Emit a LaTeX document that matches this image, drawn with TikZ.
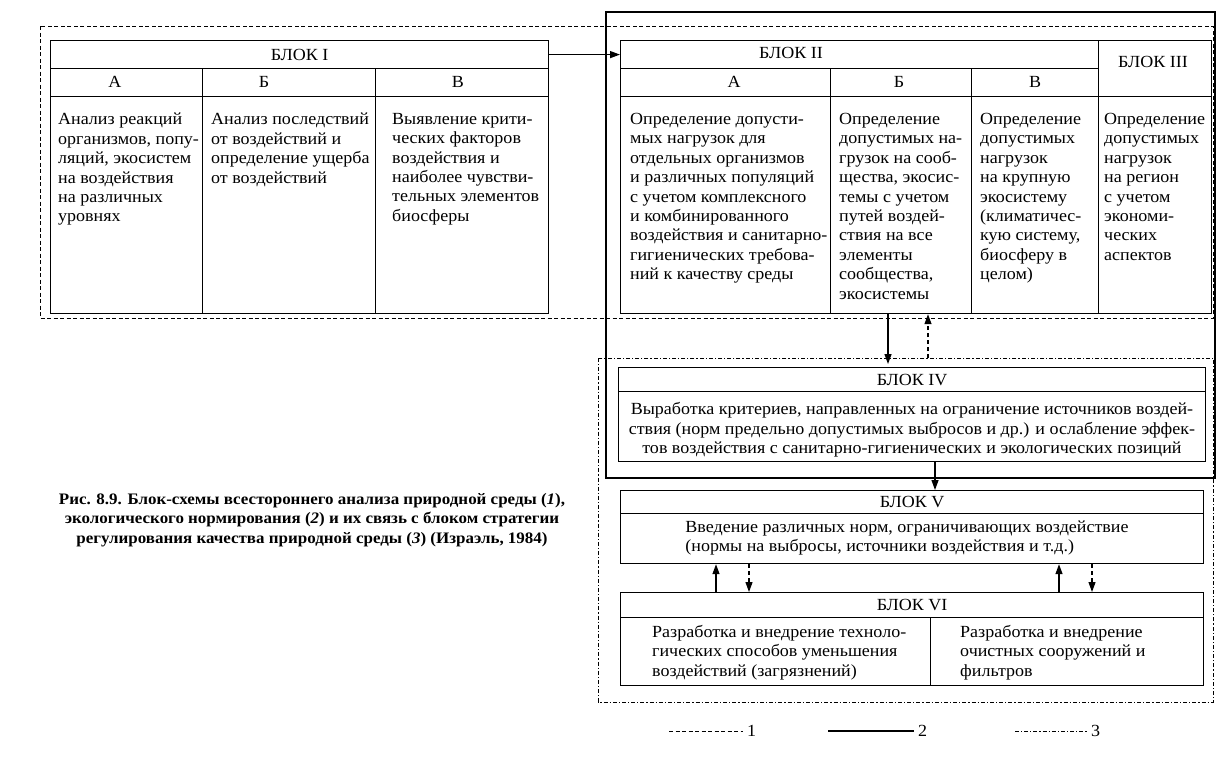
\documentclass[tikz,border=0pt]{standalone}
\usepackage{fontspec}
\setmainfont[FakeStretch=1.06]{Liberation Serif}
\usetikzlibrary{arrows.meta,calc}
\newcommand\fsz{\fontsize{17}{19.4}\selectfont}
\newcommand\capfs{\fontsize{16}{19.5}\selectfont\bfseries}
\tikzset{
  box/.style={draw, line width=1.2pt, inner sep=0pt, anchor=north west},
  txt/.style={inner sep=0pt, align=left, anchor=north west, font=\fsz},
  hd/.style={inner sep=0pt, font=\fsz},
  sarrow/.style={line width=1.3pt, -{Triangle[length=10pt,width=7pt]}},
  darrow/.style={line width=1.1pt, dash pattern=on 4pt off 3pt, -{Triangle[length=10pt,width=7pt]}},
  grpA/.style={line width=1pt, dash pattern=on 4pt off 2.5pt},
  grpB/.style={line width=1.4pt},
  grpC/.style={line width=1pt, dash pattern=on 4pt off 2pt on 1.2pt off 2pt},
}
\begin{document}
\begin{tikzpicture}[x=1pt,y=-1pt]
\useasboundingbox (0,0) rectangle (1217,766);
% group frames
\draw[grpA] (40,26) rectangle (1213,318);
\draw[grpB] (606,12) rectangle (1215,478);
\draw[grpC] (598,358) rectangle (1213,702);

% ---------- BLOCK I ----------
\node[box, minimum width=498pt, minimum height=28pt] (b1h) at (50,40) {};
\node[hd] (b1ht) at (b1h.center) {БЛОК I};
\node[box, minimum width=152pt, minimum height=28pt] (b1ha) at (50,68) {};
\node[box, minimum width=173pt, minimum height=28pt] (b1hb) at (202,68) {};
\node[box, minimum width=173pt, minimum height=28pt] (b1hc) at (375,68) {};
\node[hd] (l1a) at (115,82) {А};
\node[hd] (l1b) at (264,82) {Б};
\node[hd] (l1c) at (458,82) {В};
\node[box, minimum width=152pt, minimum height=217pt] (b1a) at (50,96) {};
\node[box, minimum width=173pt, minimum height=217pt] (b1b) at (202,96) {};
\node[box, minimum width=173pt, minimum height=217pt] (b1c) at (375,96) {};
\node[txt] (t1a) at (58,113) {Анализ реакций\\организмов, попу-\\ляций, экосистем\\на воздействия\\на различных\\уровнях};
\node[txt] (t1b) at (211,113) {Анализ последствий\\от воздействий и\\определение ущерба\\от воздействий};
\node[txt] (t1c) at (392,113) {Выявление крити-\\ческих факторов\\воздействия и\\наиболее чувстви-\\тельных элементов\\биосферы};

% ---------- BLOCK II / III ----------
\node[box, minimum width=478pt, minimum height=28pt] (b2h) at (620,40) {};
\node[hd] (b2ht) at (791,53) {БЛОК II};
\node[box, minimum width=210pt, minimum height=28pt] (b2ha) at (620,68) {};
\node[box, minimum width=141pt, minimum height=28pt] (b2hb) at (830,68) {};
\node[box, minimum width=127pt, minimum height=28pt] (b2hc) at (971,68) {};
\node[hd] (l2a) at (734,82) {А};
\node[hd] (l2b) at (899,82) {Б};
\node[hd] (l2c) at (1035,82) {В};
\node[box, minimum width=113pt, minimum height=56pt] (b3h) at (1098,40) {};
\node[hd] (b3ht) at (1153,62) {БЛОК III};
\node[box, minimum width=210pt, minimum height=217pt] (b2a) at (620,96) {};
\node[box, minimum width=141pt, minimum height=217pt] (b2b) at (830,96) {};
\node[box, minimum width=127pt, minimum height=217pt] (b2c) at (971,96) {};
\node[box, minimum width=113pt, minimum height=217pt] (b3) at (1098,96) {};
\node[txt] (t2a) at (630,113) {Определение допусти-\\мых нагрузок для\\отдельных организмов\\и различных популяций\\с учетом комплексного\\и комбинированного\\воздействия и санитарно-\\гигиенических требова-\\ний к качеству среды};
\node[txt] (t2b) at (839,113) {Определение\\допустимых на-\\грузок на сооб-\\щества, экосис-\\темы с учетом\\путей воздей-\\ствия на все\\элементы\\сообщества,\\экосистемы};
\node[txt] (t2c) at (980,113) {Определение\\допустимых\\нагрузок\\на крупную\\экосистему\\(климатичес-\\кую систему,\\биосферу в\\целом)};
\node[txt] (t3) at (1104,113) {Определение\\допустимых\\нагрузок\\на регион\\с учетом\\экономи-\\ческих\\аспектов};

\draw[sarrow] (b1h.east) -- (b2h.west);

% ---------- BLOCK IV ----------
\node[box, minimum width=587pt, minimum height=24pt] (b4h) at (618,367) {};
\node[hd] (b4ht) at (b4h.center) {БЛОК IV};
\node[box, minimum width=587pt, minimum height=70pt] (b4) at (618,391) {};
\node[hd, align=center] (t4) at (912,430) {Выработка критериев, направленных на ограничение источников воздей-\\ствия (норм предельно допустимых выбросов и др.) и ослабление эффек-\\тов воздействия с санитарно-гигиенических и экологических позиций};

\coordinate (ax1) at (888,0);
\coordinate (ax2) at (928,358);
\draw[sarrow, shorten >=3pt] (b2b.south -| ax1) -- (b4h.north -| ax1);
\draw[darrow] (ax2) -- (b2b.south -| ax2);

% ---------- BLOCK V ----------
\node[box, minimum width=583pt, minimum height=23pt] (b5h) at (620,490) {};
\node[hd] (b5ht) at (b5h.center) {БЛОК V};
\node[box, minimum width=583pt, minimum height=50pt] (b5) at (620,513) {};
\node[hd, align=left] (t5) at (907,538) {Введение различных норм, ограничивающих воздействие\\(нормы на выбросы, источники воздействия и т.д.)};

\coordinate (ax3) at (935,0);
\draw[sarrow] (b4.south -| ax3) -- (b5h.north -| ax3);

% ---------- BLOCK VI ----------
\node[box, minimum width=583pt, minimum height=25pt] (b6h) at (620,592) {};
\node[hd] (b6ht) at (b6h.center) {БЛОК VI};
\node[box, minimum width=310pt, minimum height=68pt] (b6a) at (620,617) {};
\node[box, minimum width=273pt, minimum height=68pt] (b6b) at (930,617) {};
\node[txt] (t6a) at (652,625) {Разработка и внедрение техноло-\\гических способов уменьшения\\воздействий (загрязнений)};
\node[txt] (t6b) at (960,625) {Разработка и внедрение\\очистных сооружений и\\фильтров};

\coordinate (ax4) at (716,0);
\coordinate (ax5) at (749,0);
\coordinate (ax6) at (1059,0);
\coordinate (ax7) at (1092,0);
\draw[sarrow] (b6h.north -| ax4) -- (b5.south -| ax4);
\draw[darrow] (b5.south -| ax5) -- (b6h.north -| ax5);
\draw[sarrow] (b6h.north -| ax6) -- (b5.south -| ax6);
\draw[darrow] (b5.south -| ax7) -- (b6h.north -| ax7);

% ---------- caption ----------
\node[inner sep=0pt, align=center, font=\capfs] (cap) at (312,520) {Рис. 8.9. Блок-схемы всестороннего анализа природной среды (\textit{1}),\\экологического нормирования (\textit{2}) и их связь с блоком стратегии\\регулирования качества природной среды (\textit{3}) (Израэль, 1984)};

% ---------- legend ----------
\node[hd, anchor=west] (lg1) at (747,731) {1};
\node[hd, anchor=west] (lg2) at (918,731) {2};
\node[hd, anchor=west] (lg3) at (1091,731) {3};
\coordinate (lg1s) at (669,731);
\coordinate (lg2s) at (828,731);
\coordinate (lg3s) at (1015,731);
\draw[line width=0.9pt, dash pattern=on 4pt off 2.5pt] (lg1s) -- ([xshift=-4pt]lg1.west);
\draw[line width=1.2pt] (lg2s) -- ([xshift=-4pt]lg2.west);
\draw[line width=0.9pt, dash pattern=on 4pt off 2pt on 1.2pt off 2pt] (lg3s) -- ([xshift=-4pt]lg3.west);
\end{tikzpicture}
\end{document}
